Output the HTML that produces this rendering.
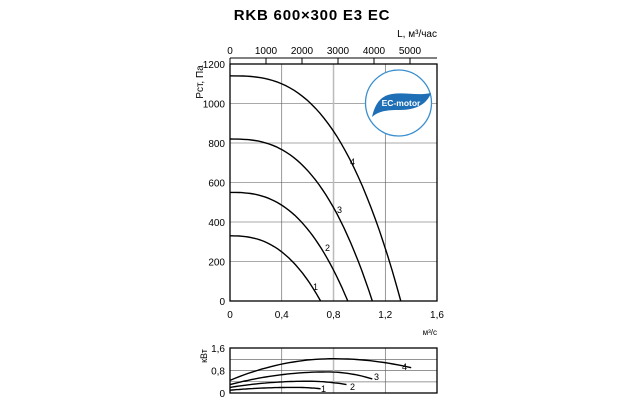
<!DOCTYPE html>
<html><head><meta charset="utf-8"><style>
body{margin:0;background:#fff}
svg{display:block;font-family:"Liberation Sans","DejaVu Sans",sans-serif}
</style></head><body>
<svg id="s" width="624" height="405" viewBox="0 0 624 405">
<text x="312" y="20" text-anchor="middle" font-weight="bold" font-size="15" letter-spacing="0.8">RKB 600×300 E3 EC</text>
<text x="437" y="37" text-anchor="end" font-size="10">L, м³/час</text>
<g id="g"></g>
</svg>
<script>
const g=document.getElementById('g');let h='';
const X=q=>230+q*129.4, Y=p=>301-p*0.1975;
for(let p=200;p<1200;p+=200)h+=`<line x1="230" x2="437" y1="${Y(p)}" y2="${Y(p)}" stroke="#555" stroke-width="0.6"/>`;
[0.4,0.8,1.2].forEach(q=>h+=`<line x1="${X(q)}" x2="${X(q)}" y1="64" y2="301" stroke="${q==0.8?'#bbb':'#555'}" stroke-width="${q==0.8?1.5:0.6}"/>`);
h+=`<rect x="230" y="64" width="207" height="237" fill="none" stroke="#000" stroke-width="1.3"/>`;
for(let i=0;i<=5;i++){const x=230+i*36;h+=`<line x1="${x}" x2="${x}" y1="58" y2="64" stroke="#000"/><text x="${x}" y="54" text-anchor="middle" font-size="10">${i*1000}</text>`;}
h+=`<line x1="230" x2="437" y1="58" y2="58" stroke="#000" stroke-width="1"/>`;
for(let p=0;p<=1200;p+=200)h+=`<text x="225" y="${Y(p)+4}" text-anchor="end" font-size="10">${p}</text>`;
h+=`<text transform="translate(203,82) rotate(-90)" text-anchor="middle" font-size="10">Pст, Па</text>`;
['0','0,4','0,8','1,2','1,6'].forEach((t,i)=>h+=`<text x="${230+i*51.75}" y="318" text-anchor="middle" font-size="10">${t}</text>`);
h+=`<text x="437" y="335" text-anchor="end" font-size="8">м³/с</text>`;
h+=`<circle cx="398.5" cy="103" r="33" fill="#fff" stroke="#3a8fd0" stroke-width="1.3"/>
<path d="M372 117 C375 104 380 96 392 94 C405 92 418 96 431 93 C427 104 416 110 400 110 C390 110 380 110 372 117Z" fill="#1e6fb5"/>
<text x="401" y="106" text-anchor="middle" font-size="8.5" font-weight="bold" fill="#fff">EC-motor</text>`;
function fan(P0,qm,n){let d='';for(let i=0;i<=40;i++){const q=qm*i/40;const p=P0*(1-Math.pow(q/qm,n));d+=(i?'L':'M')+X(q).toFixed(1)+' '+Y(p).toFixed(1);}return `<path d="${d}" fill="none" stroke="#000" stroke-width="1.4"/>`;}
h+=fan(330,0.70,2.5)+fan(550,0.91,2.6)+fan(820,1.10,2.7)+fan(1140,1.32,2.8);
h+=`<text x="313" y="290" font-size="9">1</text><text x="325" y="251" font-size="9">2</text><text x="337" y="213" font-size="9">3</text><text x="350" y="165" font-size="9">4</text>`;
const YB=v=>393-v*28.1;
[0.4,0.8,1.2].forEach(v=>h+=`<line x1="230" x2="437" y1="${YB(v)}" y2="${YB(v)}" stroke="#555" stroke-width="0.6"/>`);
h+=`<line x1="334" x2="437" y1="${YB(0.4)}" y2="${YB(0.4)}" stroke="#bbb" stroke-width="1.5"/>`;
[0.4,0.8,1.2].forEach(q=>h+=`<line x1="${X(q)}" x2="${X(q)}" y1="348" y2="393" stroke="${q==0.8?'#bbb':'#555'}" stroke-width="${q==0.8?1.5:0.6}"/>`);
h+=`<rect x="230" y="348" width="207" height="45" fill="none" stroke="#000" stroke-width="1.3"/>`;
[['0',393],['0,8',YB(0.8)],['1,6',348]].forEach(a=>h+=`<text x="225" y="${a[1]+4}" text-anchor="end" font-size="10">${a[0]}</text>`);
h+=`<text transform="translate(207,356) rotate(-90)" text-anchor="middle" font-size="9">кВт</text>`;
function pw(a,qp,vp,qe,ve){let d='';for(let i=0;i<=40;i++){const q=qe*i/40;let v;if(q<=qp){const t=q/qp;v=a+(vp-a)*(1-(1-t)*(1-t));}else{const t=(q-qp)/(qe-qp);v=vp-(vp-ve)*t*t;}d+=(i?'L':'M')+X(q).toFixed(1)+' '+YB(v).toFixed(1);}return `<path d="${d}" fill="none" stroke="#000" stroke-width="1.4"/>`;}
h+=pw(0.1,0.5,0.2,0.7,0.15)+pw(0.2,0.6,0.42,0.9,0.3)+pw(0.3,0.75,0.75,1.1,0.5)+pw(0.45,0.8,1.22,1.4,0.9);
h+=`<text x="321" y="392" font-size="9">1</text><text x="350" y="390" font-size="9">2</text><text x="374" y="380" font-size="9">3</text><text x="402" y="370" font-size="9">4</text>`;
g.innerHTML=h;
</script>
</body></html>
